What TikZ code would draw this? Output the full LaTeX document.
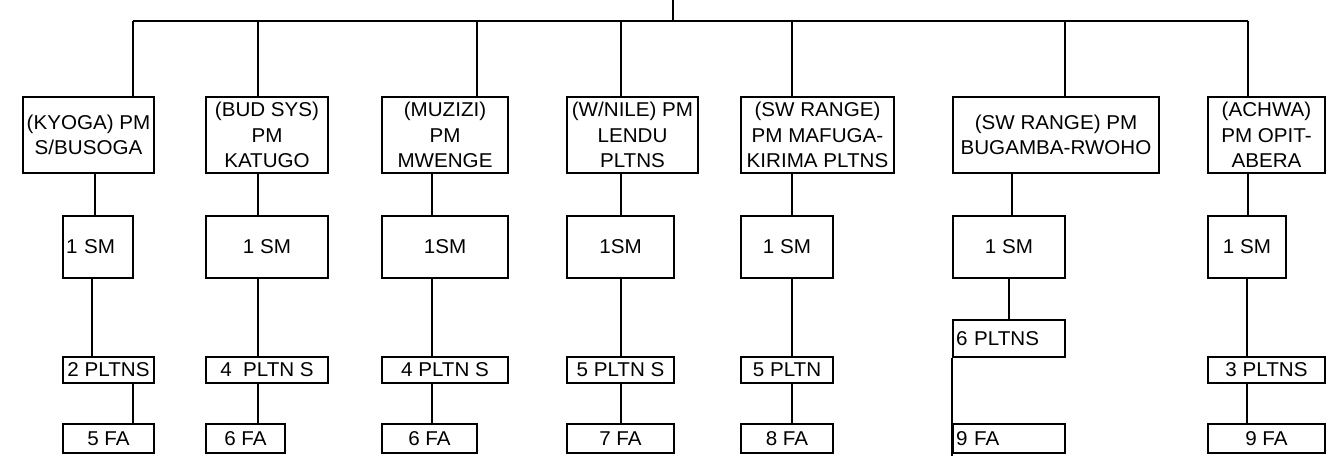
\documentclass[tikz,border=0pt]{standalone}
\usepackage{fontspec}
\setmainfont{Liberation Sans}[FakeStretch=1.03]
\begin{document}
\begin{tikzpicture}[x=1pt,y=-1pt,
  box/.style={draw, line width=1.6pt, inner sep=2pt, align=center, font=\fontsize{20}{25.5}\selectfont},
  lbox/.style={box, align=left, inner xsep=3pt},
  link/.style={line width=1.6pt}]
\useasboundingbox (0,0) rectangle (1336,472);
% row 1
\node[box, minimum width=131pt, minimum height=76pt] (a1) at (88.5,135) {(KYOGA) PM\\S/BUSOGA};
\node[box, minimum width=122pt, minimum height=76pt] (a2) at (267,135) {(BUD SYS)\\PM\\KATUGO};
\node[box, minimum width=126pt, minimum height=76pt] (a3) at (445,135) {(MUZIZI)\\PM\\MWENGE};
\node[box, minimum width=131pt, minimum height=76pt] (a4) at (632.5,135) {(W/NILE) PM\\LENDU\\PLTNS};
\node[box, minimum width=153pt, minimum height=76pt] (a5) at (817.5,135) {(SW RANGE)\\PM MAFUGA-\\KIRIMA PLTNS};
\node[box, minimum width=206pt, minimum height=76pt] (a6) at (1056,135) {(SW RANGE) PM\\BUGAMBA-RWOHO};
\node[box, minimum width=117pt, minimum height=76pt] (a7) at (1266.5,135) {(ACHWA)\\PM OPIT-\\ABERA};
% row 2
\node[lbox, text width=64pt, minimum height=62pt] (b1) at (98,247) {1 SM};
\node[box, minimum width=122pt, minimum height=62pt] (b2) at (267,247) {1 SM};
\node[box, minimum width=126pt, minimum height=62pt] (b3) at (445,247) {1SM};
\node[box, minimum width=107pt, minimum height=62pt] (b4) at (620.5,247) {1SM};
\node[box, minimum width=92pt, minimum height=62pt] (b5) at (787,247) {1 SM};
\node[box, minimum width=112pt, minimum height=62pt] (b6) at (1009,247) {1 SM};
\node[box, minimum width=78pt, minimum height=62pt] (b7) at (1247,247) {1 SM};
% row 3
\node[box, minimum width=91pt, minimum height=26pt, inner xsep=1pt] (c1) at (108.5,370) {2 PLTNS};
\node[box, minimum width=122pt, minimum height=26pt] (c2) at (267,370) {4\ \ PLTN S};
\node[box, minimum width=126pt, minimum height=26pt] (c3) at (445,370) {4 PLTN S};
\node[box, minimum width=107pt, minimum height=26pt] (c4) at (620.5,370) {5 PLTN S};
\node[box, minimum width=92pt, minimum height=26pt] (c5) at (787,370) {5 PLTN};
\node[lbox, text width=106pt, minimum height=37pt] (c6) at (1009,338.5) {6 PLTNS};
\node[box, minimum width=117pt, minimum height=26pt] (c7) at (1266.5,370) {3 PLTNS};
% row 4
\node[box, minimum width=91pt, minimum height=29pt] (d1) at (108.5,438.5) {5 FA};
\node[box, minimum width=79pt, minimum height=29pt] (d2) at (245.5,438.5) {6 FA};
\node[box, minimum width=95pt, minimum height=29pt] (d3) at (429.5,438.5) {6 FA};
\node[box, minimum width=107pt, minimum height=29pt] (d4) at (620.5,438.5) {7 FA};
\node[box, minimum width=92pt, minimum height=29pt] (d5) at (787,438.5) {8 FA};
\node[lbox, text width=106pt, minimum height=29pt] (d6) at (1009,438.5) {9 FA};
\node[box, minimum width=117pt, minimum height=29pt] (d7) at (1266.5,438.5) {9 FA};
% bus
\coordinate (top) at (673,0);
\coordinate (hj) at (673,21);
\coordinate (h1) at (133,21);
\coordinate (h2) at (258,21);
\coordinate (h3) at (477,21);
\coordinate (h4) at (621,21);
\coordinate (h5) at (792,21);
\coordinate (h6) at (1065,21);
\coordinate (h7) at (1248,21);
\draw[link] (top) -- (hj);
\draw[link] (h1) -- (h7);
\foreach \i in {1,...,7} {\draw[link] (h\i) -- (h\i |- a\i.north);}
% row 1 -> row 2
\draw[link] (95,0 |- a1.south) -- (95,0 |- b1.north);
\draw[link] (258,0 |- a2.south) -- (258,0 |- b2.north);
\draw[link] (432,0 |- a3.south) -- (432,0 |- b3.north);
\draw[link] (621,0 |- a4.south) -- (621,0 |- b4.north);
\draw[link] (792,0 |- a5.south) -- (792,0 |- b5.north);
\draw[link] (1012,0 |- a6.south) -- (1012,0 |- b6.north);
\draw[link] (1248,0 |- a7.south) -- (1248,0 |- b7.north);
% row 2 -> row 3
\draw[link] (92,0 |- b1.south) -- (92,0 |- c1.north);
\draw[link] (258,0 |- b2.south) -- (258,0 |- c2.north);
\draw[link] (432,0 |- b3.south) -- (432,0 |- c3.north);
\draw[link] (621,0 |- b4.south) -- (621,0 |- c4.north);
\draw[link] (792,0 |- b5.south) -- (792,0 |- c5.north);
\draw[link] (1009,0 |- b6.south) -- (1009,0 |- c6.north);
\draw[link] (1247,0 |- b7.south) -- (1247,0 |- c7.north);
% row 3 -> row 4
\draw[link] (133,0 |- c1.south) -- (133,0 |- d1.north);
\draw[link] (258,0 |- c2.south) -- (258,0 |- d2.north);
\draw[link] (432,0 |- c3.south) -- (432,0 |- d3.north);
\draw[link] (621,0 |- c4.south) -- (621,0 |- d4.north);
\draw[link] (792,0 |- c5.south) -- (792,0 |- d5.north);
\draw[link] (c6.south west) -- ([yshift=-2pt]d6.south west);
\draw[link] (1247,0 |- c7.south) -- (1247,0 |- d7.north);
\end{tikzpicture}
\end{document}
